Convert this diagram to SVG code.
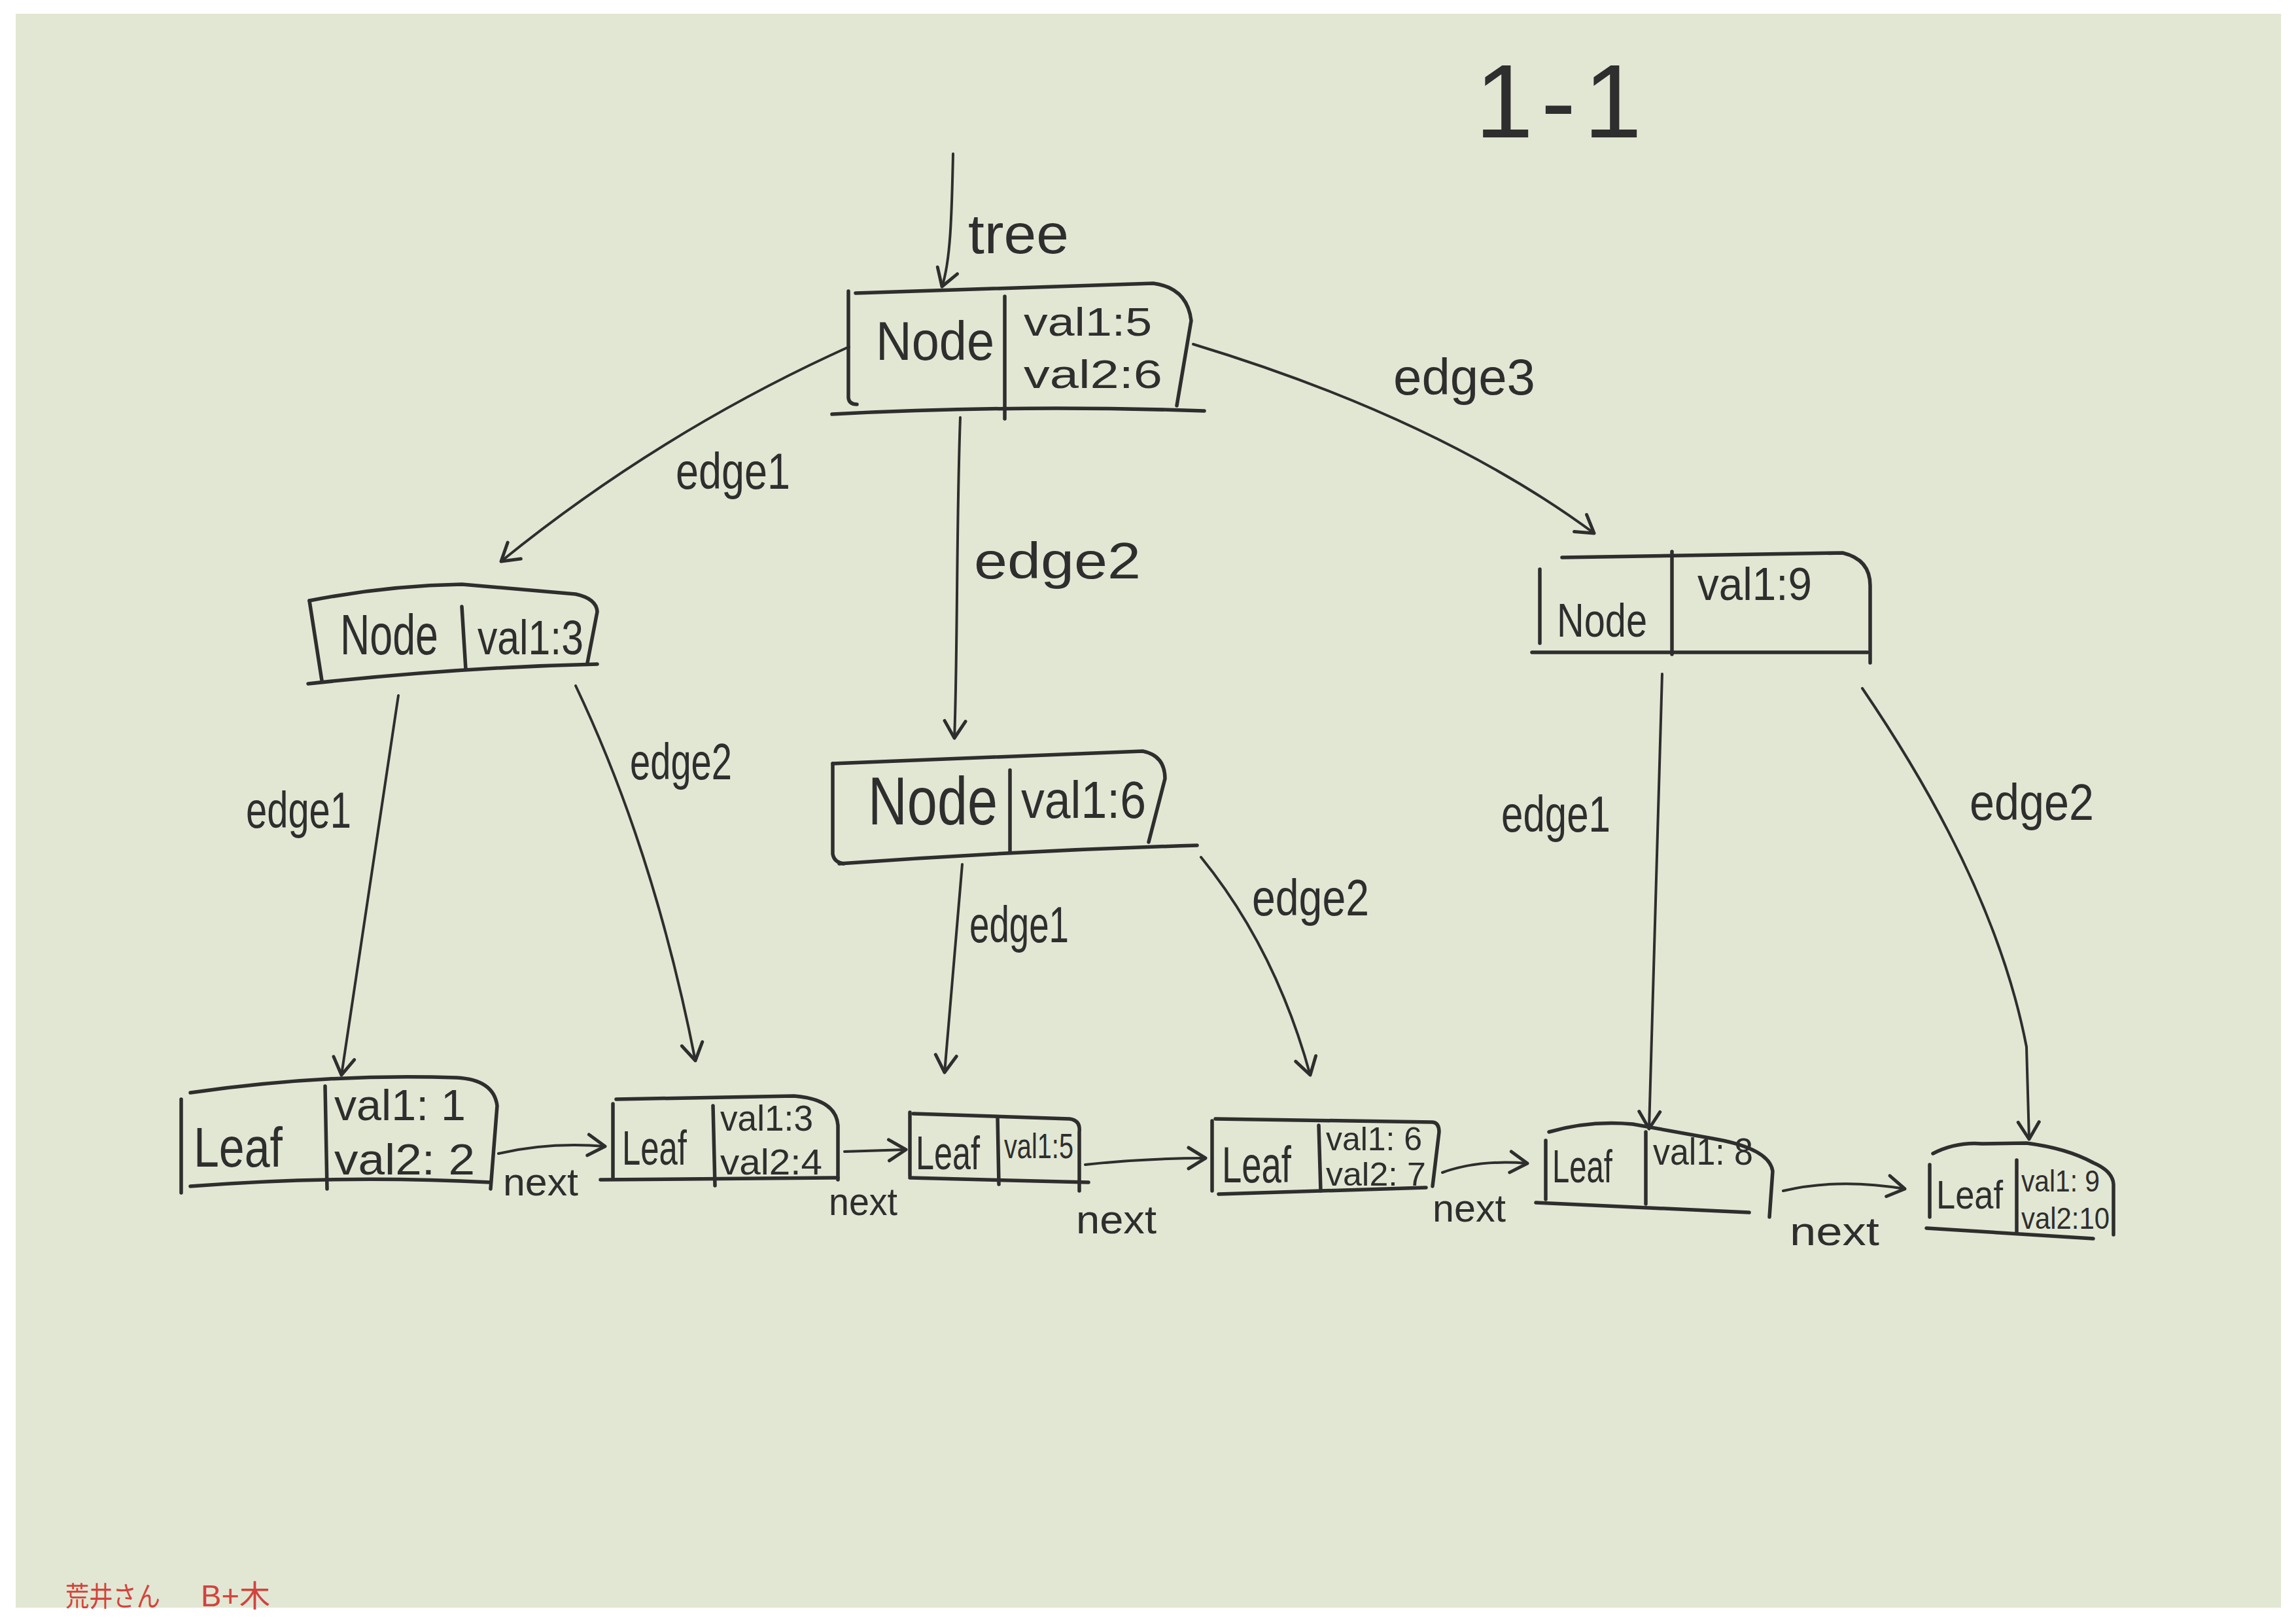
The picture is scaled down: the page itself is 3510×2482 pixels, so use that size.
<svg xmlns="http://www.w3.org/2000/svg" width="3510" height="2482" viewBox="0 0 3510 2482">
<defs>
<style>
.bx{fill:none;stroke:#2e2e2e;stroke-width:5.5;stroke-linecap:round;stroke-linejoin:round}
.ed{fill:none;stroke:#2e2e2e;stroke-width:4;stroke-linecap:round}
.t{font-family:"Liberation Sans","DejaVu Sans",sans-serif;fill:#2e2e2e}
.lb{font-family:"Liberation Sans","DejaVu Sans",sans-serif;fill:#2e2e2e;font-size:78px}
.red{font-family:"Liberation Sans","Noto Sans CJK JP",sans-serif;fill:#d2433d}
</style>
<marker id="ah" viewBox="-40 -30 60 60" refX="0" refY="0" markerWidth="60" markerHeight="60" markerUnits="userSpaceOnUse" orient="auto" overflow="visible">
<path d="M-26,-16 L0,0 L-26,16" fill="none" stroke="#2e2e2e" stroke-width="5" stroke-linecap="round" stroke-linejoin="round"/>
</marker>
</defs>
<rect x="0" y="0" width="3510" height="2482" fill="#ffffff"/>
<rect x="24" y="21" width="3463" height="2436" fill="#e2e7d3"/>

<text id="title" class="t" x="2255" y="210" font-size="160" textLength="255" lengthAdjust="spacing">1-1</text>

<g id="connectors">
<path class="ed" d="M1457,235 C1455,330 1453,400 1440,438" marker-end="url(#ah)"/>
<text class="t" x="1480" y="387" font-size="86" textLength="154" lengthAdjust="spacingAndGlyphs">tree</text>

<path class="ed" d="M1298,530 Q1010,660 766,858" marker-end="url(#ah)"/>
<text class="lb" x="1033" y="747" textLength="175" lengthAdjust="spacingAndGlyphs">edge1</text>
<path class="ed" d="M1468,638 C1462,800 1464,1000 1459,1128" marker-end="url(#ah)"/>
<text class="lb" x="1489" y="884" font-size="74" textLength="255" lengthAdjust="spacingAndGlyphs">edge2</text>
<path class="ed" d="M1824,526 Q2200,640 2437,815" marker-end="url(#ah)"/>
<text class="lb" x="2130" y="603" textLength="217" lengthAdjust="spacingAndGlyphs">edge3</text>

<path class="ed" d="M609,1063 L522,1643" marker-end="url(#ah)"/>
<text class="lb" x="376" y="1265" font-size="70" textLength="161" lengthAdjust="spacingAndGlyphs">edge1</text>
<path class="ed" d="M880,1048 Q1000,1300 1063,1621" marker-end="url(#ah)"/>
<text class="lb" x="963" y="1191" font-size="66" textLength="156" lengthAdjust="spacingAndGlyphs">edge2</text>

<path class="ed" d="M1471,1321 L1444,1639" marker-end="url(#ah)"/>
<text class="lb" x="1482" y="1440" font-size="66" textLength="152" lengthAdjust="spacingAndGlyphs">edge1</text>
<path class="ed" d="M1836,1310 Q1950,1450 2003,1643" marker-end="url(#ah)"/>
<text class="lb" x="1914" y="1399" font-size="70" textLength="179" lengthAdjust="spacingAndGlyphs">edge2</text>

<path class="ed" stroke-width="2.5" d="M2541,1030 L2521,1725" marker-end="url(#ah)"/>
<text class="lb" x="2295" y="1271" font-size="72" textLength="167" lengthAdjust="spacingAndGlyphs">edge1</text>
<path class="ed" d="M2847,1052 Q3050,1350 3098,1600 L3102,1741" marker-end="url(#ah)"/>
<text class="lb" x="3011" y="1253" font-size="72" textLength="190" lengthAdjust="spacingAndGlyphs">edge2</text>

<path class="ed" d="M762,1763 Q840,1745 925,1752" marker-end="url(#ah)"/>
<text class="t" x="769" y="1827" font-size="60" textLength="115" lengthAdjust="spacingAndGlyphs">next</text>
<path class="ed" d="M1291,1760 L1385,1757" marker-end="url(#ah)"/>
<text class="t" x="1267" y="1857" font-size="60" textLength="105" lengthAdjust="spacingAndGlyphs">next</text>
<path class="ed" d="M1659,1780 Q1750,1770 1843,1770" marker-end="url(#ah)"/>
<text class="t" x="1645" y="1885" font-size="62" textLength="123" lengthAdjust="spacingAndGlyphs">next</text>
<path class="ed" d="M2205,1792 Q2260,1772 2335,1778" marker-end="url(#ah)"/>
<text class="t" x="2190" y="1867" font-size="60" textLength="112" lengthAdjust="spacingAndGlyphs">next</text>
<path class="ed" d="M2726,1820 Q2810,1800 2912,1817" marker-end="url(#ah)"/>
<text class="t" x="2736" y="1903" font-size="62" textLength="137" lengthAdjust="spacingAndGlyphs">next</text>
</g>

<g id="node-root">
<path class="bx" d="M1297,445 L1297,608 Q1298,618 1310,618"/>
<path class="bx" d="M1308,448 L1763,433 Q1815,440 1821,490 L1799,620"/>
<path class="bx" d="M1272,633 Q1560,618 1841,628"/>
<path class="bx" d="M1536,453 L1536,640"/>
<text class="t" x="1339" y="550" font-size="84" textLength="181" lengthAdjust="spacingAndGlyphs">Node</text>
<text class="t" x="1565" y="513" font-size="62" textLength="196" lengthAdjust="spacingAndGlyphs">val1:5</text>
<text class="t" x="1565" y="593" font-size="62" textLength="212" lengthAdjust="spacingAndGlyphs">val2:6</text>
</g>

<g id="node-3">
<path class="bx" d="M473,918 L492,1040"/>
<path class="bx" d="M473,918 Q590,895 706,893 L880,908 Q912,915 913,935 L898,1013"/>
<path class="bx" d="M471,1045 Q700,1020 913,1015"/>
<path class="bx" d="M706,927 L712,1023"/>
<text class="t" x="520" y="1000" font-size="88" textLength="150" lengthAdjust="spacingAndGlyphs">Node</text>
<text class="t" x="730" y="1000" font-size="74" textLength="162" lengthAdjust="spacingAndGlyphs">val1:3</text>
</g>

<g id="node-6">
<path class="bx" d="M1273,1167 L1273,1305 Q1275,1318 1290,1320"/>
<path class="bx" d="M1273,1167 L1747,1148 Q1781,1155 1781,1190 L1756,1287"/>
<path class="bx" d="M1283,1320 Q1560,1300 1830,1292"/>
<path class="bx" d="M1544,1177 L1544,1303"/>
<text class="t" x="1327" y="1260" font-size="104" textLength="198" lengthAdjust="spacingAndGlyphs">Node</text>
<text class="t" x="1561" y="1250" font-size="80" textLength="191" lengthAdjust="spacingAndGlyphs">val1:6</text>
</g>

<g id="node-9">
<path class="bx" d="M2388,852 L2817,845 Q2859,855 2859,895 L2859,1013"/>
<path class="bx" d="M2354,870 L2354,983"/>
<path class="bx" d="M2342,997 L2855,997"/>
<path class="bx" d="M2556,843 L2556,1000"/>
<text class="t" x="2380" y="973" font-size="72" textLength="138" lengthAdjust="spacingAndGlyphs">Node</text>
<text class="t" x="2595" y="917" font-size="70" textLength="175" lengthAdjust="spacingAndGlyphs">val1:9</text>
</g>

<g id="leaf-1">
<path class="bx" d="M277,1680 L277,1823"/>
<path class="bx" d="M291,1670 Q500,1640 698,1647 Q755,1650 760,1690 L750,1817"/>
<path class="bx" d="M291,1813 Q520,1795 750,1807"/>
<path class="bx" d="M497,1660 L500,1817"/>
<text class="t" x="296" y="1783" font-size="86" textLength="136" lengthAdjust="spacingAndGlyphs">Leaf</text>
<text class="t" x="511" y="1712" font-size="66" textLength="201" lengthAdjust="spacingAndGlyphs">val1: 1</text>
<text class="t" x="511" y="1795" font-size="66" textLength="215" lengthAdjust="spacingAndGlyphs">val2: 2</text>
</g>

<g id="leaf-2">
<path class="bx" d="M937,1687 L937,1802"/>
<path class="bx" d="M942,1680 L1214,1675 Q1278,1680 1281,1720 L1281,1803"/>
<path class="bx" d="M918,1803 L1281,1800"/>
<path class="bx" d="M1090,1690 L1093,1812"/>
<text class="t" x="951" y="1780" font-size="74" textLength="99" lengthAdjust="spacingAndGlyphs">Leaf</text>
<text class="t" x="1101" y="1728" font-size="56" textLength="142" lengthAdjust="spacingAndGlyphs">val1:3</text>
<text class="t" x="1101" y="1795" font-size="56" textLength="156" lengthAdjust="spacingAndGlyphs">val2:4</text>
</g>

<g id="leaf-3">
<path class="bx" d="M1391,1700 L1391,1797"/>
<path class="bx" d="M1396,1702 L1635,1710 Q1652,1712 1650,1730 L1650,1820"/>
<path class="bx" d="M1391,1800 L1664,1807"/>
<path class="bx" d="M1525,1707 L1527,1810"/>
<text class="t" x="1400" y="1787" font-size="72" textLength="98" lengthAdjust="spacingAndGlyphs">Leaf</text>
<text class="t" x="1535" y="1770" font-size="54" textLength="106" lengthAdjust="spacingAndGlyphs">val1:5</text>
</g>

<g id="leaf-4">
<path class="bx" d="M1853,1713 L1853,1820"/>
<path class="bx" d="M1858,1710 L2190,1715 Q2200,1716 2200,1730 L2190,1813"/>
<path class="bx" d="M1863,1825 L2180,1815"/>
<path class="bx" d="M2016,1720 L2019,1820"/>
<text class="t" x="1868" y="1807" font-size="78" textLength="106" lengthAdjust="spacingAndGlyphs">Leaf</text>
<text class="t" x="2027" y="1758" font-size="50" textLength="147" lengthAdjust="spacingAndGlyphs">val1: 6</text>
<text class="t" x="2027" y="1812" font-size="50" textLength="153" lengthAdjust="spacingAndGlyphs">val2: 7</text>
</g>

<g id="leaf-5">
<path class="bx" d="M2363,1743 L2363,1833"/>
<path class="bx" d="M2368,1730 Q2430,1712 2496,1718 L2618,1740 Q2705,1755 2710,1790 L2705,1860"/>
<path class="bx" d="M2348,1838 L2674,1853"/>
<path class="bx" d="M2516,1730 L2516,1840"/>
<text class="t" x="2373" y="1807" font-size="70" textLength="92" lengthAdjust="spacingAndGlyphs">Leaf</text>
<text class="t" x="2527" y="1780" font-size="58" textLength="153" lengthAdjust="spacingAndGlyphs">val1: 8</text>
</g>

<g id="leaf-6">
<path class="bx" d="M2950,1780 L2950,1860"/>
<path class="bx" d="M2955,1763 Q2990,1745 3030,1748 L3098,1747 Q3160,1755 3200,1777 Q3230,1790 3231,1810 L3231,1887"/>
<path class="bx" d="M2945,1877 L3200,1893"/>
<path class="bx" d="M3083,1773 L3083,1883"/>
<text class="t" x="2960" y="1847" font-size="62" textLength="102" lengthAdjust="spacingAndGlyphs">Leaf</text>
<text class="t" x="3090" y="1821" font-size="46" textLength="120" lengthAdjust="spacingAndGlyphs">val1: 9</text>
<text class="t" x="3090" y="1878" font-size="46" textLength="135" lengthAdjust="spacingAndGlyphs">val2:10</text>
</g>

<g id="note">
<text class="red" x="100" y="2455" font-size="42" textLength="145" lengthAdjust="spacingAndGlyphs">荒井さん</text>
<text class="red" x="307" y="2455" font-size="46" textLength="106" lengthAdjust="spacingAndGlyphs">B+木</text>
</g>
</svg>
